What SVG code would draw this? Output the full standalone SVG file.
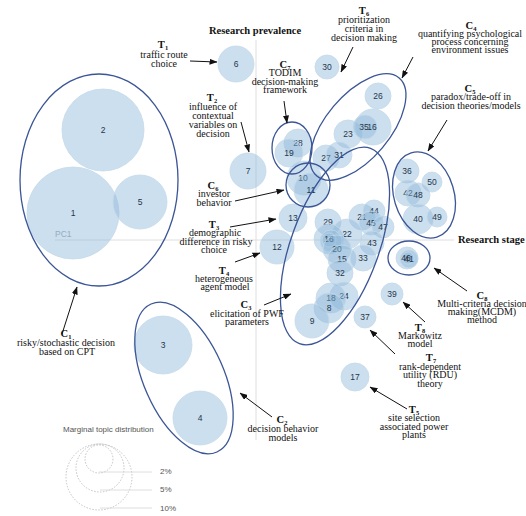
<svg xmlns="http://www.w3.org/2000/svg" width="526" height="516" viewBox="0 0 526 516">
<defs>
<marker id="ah" markerWidth="8" markerHeight="6" refX="7.5" refY="3" orient="auto" markerUnits="userSpaceOnUse">
<path d="M0,0 L8,3 L0,6 Z" fill="#111"/>
</marker>
<style>
.t{fill:#8fb9da;fill-opacity:0.45;stroke:#c4d9ea;stroke-width:0.8}
.n{font-family:"Liberation Sans",Arial,sans-serif;font-size:8.5px;fill:#25364a;text-anchor:middle}
.cl{fill:none;stroke:#3b5596;stroke-width:1.3}
.lb{font-family:"Liberation Serif","Times New Roman",serif;font-size:10px;fill:#111;text-anchor:middle}
.hd{font-family:"Liberation Serif","Times New Roman",serif;font-size:10.5px;font-weight:bold;fill:#111;text-anchor:middle}
.sb{font-size:6.5px}
.ar{stroke:#111;stroke-width:1;fill:none;marker-end:url(#ah)}
.ax{stroke:#dedede;stroke-width:1}
.lg{fill:none;stroke:#b5b5b5;stroke-width:0.8;stroke-dasharray:1.5 1.5}
.lt{font-family:"Liberation Sans",Arial,sans-serif;font-size:8px;fill:#555}
</style>
</defs>
<rect width="526" height="516" fill="#fff"/>
<g id="axes">
<line class="ax" x1="256" y1="40" x2="256" y2="440"/>
<line class="ax" x1="55" y1="240" x2="454" y2="240"/>
<text x="209" y="34" font-family="Liberation Serif,serif" font-size="10.5" font-weight="bold" fill="#111">Research prevalence</text>
<text x="458" y="243" font-family="Liberation Serif,serif" font-size="10.5" font-weight="bold" fill="#111">Research stage</text>
<text x="55" y="237" font-family="Liberation Sans,sans-serif" font-size="8.5" fill="#9aa3ad">PC1</text>
</g>
<g id="topics">
<g id="t2"><circle class="t" cx="103" cy="130" r="41"/><text class="n" x="103" y="133">2</text></g>
<g id="t1"><circle class="t" cx="73" cy="213" r="46"/><text class="n" x="73" y="216">1</text></g>
<g id="t5"><circle class="t" cx="140" cy="202" r="27"/><text class="n" x="140" y="205">5</text></g>
<g id="t6"><circle class="t" cx="236" cy="64" r="18"/><text class="n" x="236" y="67">6</text></g>
<g id="t7"><circle class="t" cx="248" cy="171" r="18"/><text class="n" x="248" y="174">7</text></g>
<g id="t3"><circle class="t" cx="163" cy="345" r="29"/><text class="n" x="163" y="348">3</text></g>
<g id="t4"><circle class="t" cx="200" cy="418" r="27"/><text class="n" x="200" y="421">4</text></g>
<g id="t30"><circle class="t" cx="327" cy="67" r="12"/><text class="n" x="327" y="70">30</text></g>
<g id="t28"><circle class="t" cx="298" cy="143" r="14"/><text class="n" x="298" y="146">28</text></g>
<g id="t19"><circle class="t" cx="289" cy="153" r="14"/><text class="n" x="289" y="156">19</text></g>
<g id="t26"><circle class="t" cx="378" cy="96" r="13"/><text class="n" x="378" y="99">26</text></g>
<g id="t23"><circle class="t" cx="348" cy="134" r="14"/><text class="n" x="348" y="137">23</text></g>
<g id="t16b"><circle class="t" cx="373" cy="127" r="18"/></g>
<g id="t35"><circle class="t" cx="365" cy="127" r="12"/><text class="n" x="364" y="130">35</text><text class="n" x="372" y="130">16</text></g>
<g id="t27"><circle class="t" cx="326" cy="158" r="13"/><text class="n" x="326" y="161">27</text></g>
<g id="t31"><circle class="t" cx="339" cy="155" r="13"/><text class="n" x="339" y="158">31</text></g>
<g id="t10"><circle class="t" cx="304" cy="178" r="17"/><text class="n" x="303" y="181">10</text></g>
<g id="t11"><circle class="t" cx="311" cy="190" r="17"/><text class="n" x="311" y="193">11</text></g>
<g id="t13"><circle class="t" cx="293" cy="218" r="14"/><text class="n" x="293" y="221">13</text></g>
<g id="t12"><circle class="t" cx="277" cy="247" r="17"/><text class="n" x="277" y="250">12</text></g>
<g id="t36"><circle class="t" cx="407" cy="171" r="12"/><text class="n" x="407" y="174">36</text></g>
<g id="t50"><circle class="t" cx="432" cy="182" r="10"/><text class="n" x="432" y="185">50</text></g>
<g id="t42"><circle class="t" cx="408" cy="193" r="13"/><text class="n" x="408" y="196">42</text></g>
<g id="t48"><circle class="t" cx="418" cy="195" r="12"/><text class="n" x="418" y="198">48</text></g>
<g id="t40"><circle class="t" cx="418" cy="219" r="15"/><text class="n" x="418" y="222">40</text></g>
<g id="t49"><circle class="t" cx="437" cy="217" r="10"/><text class="n" x="437" y="220">49</text></g>
<g id="t46"><circle class="t" cx="407" cy="258" r="11"/><circle class="t" cx="409" cy="259" r="9"/><circle class="t" cx="408" cy="258" r="6"/><text class="n" x="406" y="261">46</text><text class="n" x="409" y="262">41</text></g>
<g id="t29"><circle class="t" cx="328" cy="222" r="13"/><text class="n" x="328" y="225">29</text></g>
<g id="t21"><circle class="t" cx="362" cy="217" r="13"/><text class="n" x="362" y="220">21</text></g>
<g id="t44"><circle class="t" cx="374" cy="211" r="11"/><text class="n" x="374" y="214">44</text></g>
<g id="t45"><circle class="t" cx="371" cy="223" r="12"/><text class="n" x="371" y="226">45</text></g>
<g id="t47"><circle class="t" cx="383" cy="227" r="11"/><text class="n" x="383" y="230">47</text></g>
<g id="t22"><circle class="t" cx="347" cy="234" r="15"/><text class="n" x="347" y="237">22</text></g>
<g id="t16"><circle class="t" cx="329" cy="239" r="15"/><circle class="t" cx="331" cy="241" r="11"/><circle class="t" cx="329" cy="240" r="7"/><text class="n" x="329" y="242">16</text></g>
<g id="t43"><circle class="t" cx="372" cy="243" r="12"/><text class="n" x="372" y="246">43</text></g>
<g id="t20"><circle class="t" cx="337" cy="249" r="14"/><text class="n" x="337" y="252">20</text></g>
<g id="t15"><circle class="t" cx="342" cy="259" r="14"/><text class="n" x="342" y="262">15</text></g>
<g id="t33"><circle class="t" cx="363" cy="258" r="13"/><text class="n" x="363" y="261">33</text></g>
<g id="t32"><circle class="t" cx="340" cy="273" r="13"/><text class="n" x="340" y="276">32</text></g>
<g id="t24"><circle class="t" cx="344" cy="296" r="14"/><text class="n" x="344" y="299">24</text></g>
<g id="t18"><circle class="t" cx="331" cy="298" r="15"/><text class="n" x="331" y="301">18</text></g>
<g id="t8"><circle class="t" cx="329" cy="308" r="15"/><text class="n" x="329" y="311">8</text></g>
<g id="t9"><circle class="t" cx="312" cy="321" r="17"/><text class="n" x="312" y="324">9</text></g>
<g id="t37"><circle class="t" cx="365" cy="317" r="11"/><text class="n" x="365" y="320">37</text></g>
<g id="t39"><circle class="t" cx="392" cy="294" r="11"/><text class="n" x="392" y="297">39</text></g>
<g id="t17"><circle class="t" cx="355" cy="377" r="14"/><text class="n" x="355" y="380">17</text></g>
</g>
<g id="clusters">
<ellipse id="c1" class="cl" cx="99" cy="180" rx="79" ry="106"/>
<ellipse id="c2" class="cl" cx="184" cy="378" rx="40" ry="81" transform="rotate(-24 184 378)"/>
<ellipse id="c3" class="cl" cx="335" cy="246" rx="44" ry="104" transform="rotate(20 335 246)"/>
<ellipse id="c4" class="cl" cx="358" cy="127" rx="32" ry="64" transform="rotate(40 358 127)"/>
<ellipse id="c5" class="cl" cx="424" cy="195" rx="30" ry="44" transform="rotate(-17 424 195)"/>
<ellipse id="c6" class="cl" cx="308" cy="185" rx="22" ry="22"/>
<ellipse id="c7" class="cl" cx="292" cy="148" rx="20" ry="26"/>
<ellipse id="c8" class="cl" cx="409" cy="258" rx="21" ry="17"/>
</g>
<g id="connectors">
<line class="ar" x1="190" y1="61" x2="217" y2="62"/>
<line class="ar" x1="241" y1="122" x2="249" y2="152"/>
<line class="ar" x1="235" y1="201" x2="284" y2="190"/>
<line class="ar" x1="230" y1="227" x2="276" y2="219"/>
<line class="ar" x1="235" y1="262" x2="260" y2="253"/>
<line class="ar" x1="264" y1="305" x2="291" y2="294"/>
<line class="ar" x1="62" y1="334" x2="77" y2="287"/>
<line class="ar" x1="272" y1="417" x2="240" y2="393"/>
<line class="ar" x1="407" y1="409" x2="370" y2="387"/>
<line class="ar" x1="395" y1="354" x2="370" y2="330"/>
<line class="ar" x1="425" y1="322" x2="403" y2="302"/>
<line class="ar" x1="467" y1="291" x2="434" y2="268"/>
<line class="ar" x1="353" y1="47" x2="341" y2="72"/>
<line class="ar" x1="413" y1="57" x2="402" y2="78"/>
<line class="ar" x1="447" y1="120" x2="428" y2="151"/>
<line class="ar" x1="284" y1="101" x2="287" y2="123"/>
</g>
<g id="labels">
<g id="lT1"><text class="hd" x="163" y="48">T<tspan class="sb" dy="1.5">1</tspan></text><text class="lb" x="164" y="58">traffic route</text><text class="lb" x="164" y="67">choice</text></g>
<g id="lT2"><text class="hd" x="212" y="101">T<tspan class="sb" dy="1.5">2</tspan></text><text class="lb" x="213" y="110">influence of</text><text class="lb" x="213" y="119">contextual</text><text class="lb" x="213" y="128">variables on</text><text class="lb" x="213" y="137">decision</text></g>
<g id="lC6"><text class="hd" x="213" y="189">C<tspan class="sb" dy="1.5">6</tspan></text><text class="lb" x="214" y="197">investor</text><text class="lb" x="214" y="206">behavior</text></g>
<g id="lT3"><text class="hd" x="214" y="228">T<tspan class="sb" dy="1.5">3</tspan></text><text class="lb" x="215" y="236">demographic</text><text class="lb" x="216" y="245">difference in risky</text><text class="lb" x="214" y="253">choice</text></g>
<g id="lT4"><text class="hd" x="224" y="274">T<tspan class="sb" dy="1.5">4</tspan></text><text class="lb" x="224" y="282">heterogeneous</text><text class="lb" x="225" y="290">agent model</text></g>
<g id="lC3"><text class="hd" x="246" y="308">C<tspan class="sb" dy="1.5">3</tspan></text><text class="lb" x="247" y="317">elicitation of PWF</text><text class="lb" x="247" y="325">parameters</text></g>
<g id="lC1"><text class="hd" x="66" y="337">C<tspan class="sb" dy="1.5">1</tspan></text><text class="lb" x="66" y="346">risky/stochastic decision</text><text class="lb" x="67" y="355">based on CPT</text></g>
<g id="lC2"><text class="hd" x="282" y="423">C<tspan class="sb" dy="1.5">2</tspan></text><text class="lb" x="283" y="432">decision behavior</text><text class="lb" x="283" y="441">models</text></g>
<g id="lT5"><text class="hd" x="414" y="413">T<tspan class="sb" dy="1.5">5</tspan></text><text class="lb" x="414" y="421">site selection</text><text class="lb" x="414" y="430">associated power</text><text class="lb" x="414" y="438">plants</text></g>
<g id="lT7"><text class="hd" x="431" y="361">T<tspan class="sb" dy="1.5">7</tspan></text><text class="lb" x="430" y="370">rank-dependent</text><text class="lb" x="430" y="378">utility (RDU)</text><text class="lb" x="430" y="387">theory</text></g>
<g id="lT8"><text class="hd" x="420" y="331">T<tspan class="sb" dy="1.5">8</tspan></text><text class="lb" x="420" y="339">Markowitz</text><text class="lb" x="420" y="347">model</text></g>
<g id="lC8"><text class="hd" x="482" y="299">C<tspan class="sb" dy="1.5">8</tspan></text><text class="lb" x="482" y="307">Multi-criteria decision</text><text class="lb" x="482" y="315">making(MCDM)</text><text class="lb" x="482" y="323">method</text></g>
<g id="lT6"><text class="hd" x="364" y="14">T<tspan class="sb" dy="1.5">6</tspan></text><text class="lb" x="364" y="23">prioritization</text><text class="lb" x="364" y="32">criteria in</text><text class="lb" x="364" y="41">decision making</text></g>
<g id="lC4"><text class="hd" x="471" y="29">C<tspan class="sb" dy="1.5">4</tspan></text><text class="lb" x="470" y="37">quantifying psychological</text><text class="lb" x="470" y="45">process concerning</text><text class="lb" x="470" y="53">environment issues</text></g>
<g id="lC5"><text class="hd" x="470" y="92">C<tspan class="sb" dy="1.5">5</tspan></text><text class="lb" x="471" y="100">paradox/trade-off in</text><text class="lb" x="471" y="109">decision theories/models</text></g>
<g id="lC7"><text class="hd" x="285" y="68">C<tspan class="sb" dy="1.5">7</tspan></text><text class="lb" x="285" y="76">TODIM</text><text class="lb" x="285" y="85">decision-making</text><text class="lb" x="285" y="93">framework</text></g>
</g>
<g id="legend">
<text class="lt" x="63" y="432">Marginal topic distribution</text>
<circle class="lg" cx="99" cy="477" r="33"/>
<circle class="lg" cx="100" cy="468" r="24"/>
<circle class="lg" cx="99" cy="459" r="14"/>
<line x1="99" y1="472" x2="152" y2="472" stroke="#d5d5d5" stroke-width="0.8"/>
<line x1="100" y1="490" x2="152" y2="490" stroke="#d5d5d5" stroke-width="0.8"/>
<line x1="100" y1="508" x2="152" y2="508" stroke="#d5d5d5" stroke-width="0.8"/>
<text class="lt" x="160" y="474">2%</text>
<text class="lt" x="160" y="492">5%</text>
<text class="lt" x="160" y="511">10%</text>
</g>
</svg>
